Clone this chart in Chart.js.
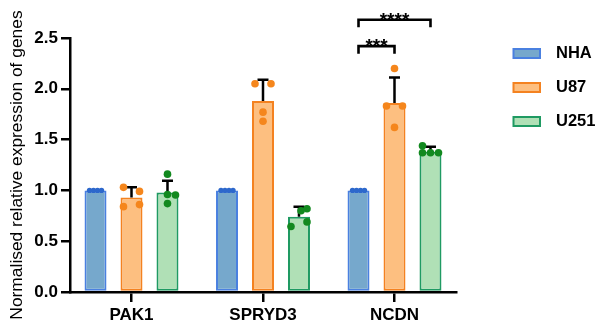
<!DOCTYPE html>
<html><head><meta charset="utf-8">
<script src="https://cdn.jsdelivr.net/npm/chart.js@4.4.0/dist/chart.umd.min.js"></script>
<style>html,body{margin:0;padding:0;background:#fff;} canvas{display:block;}</style>
</head><body>
<canvas id="c" width="600" height="332"></canvas>
<script>
// ---- data ----
const categories = ['PAK1', 'SPRYD3', 'NCDN'];
const groups = ['NHA', 'U87', 'U251'];
const meanNHA = [1.00, 1.00, 1.00];
const meanU87 = [0.93, 1.88, 1.86];
const meanU251 = [0.98, 0.74, 1.38];
const sdNHA = [0, 0, 0];
const sdU87 = [0.10, 0.21, 0.25];
const sdU251 = [0.115, 0.10, 0.05];
const repNHA = [[1, 1, 1, 1], [1, 1, 1, 1], [1, 1, 1, 1]];
const repU87 = [[1.03, 0.99, 0.84, 0.86], [2.05, 2.05, 1.77, 1.68], [2.20, 1.83, 1.83, 1.62]];
const repU251 = [[1.16, 0.96, 0.955, 0.87], [0.80, 0.82, 0.645, 0.69], [1.44, 1.37, 1.37, 1.37]];
const yTicks = [0, 0.5, 1.0, 1.5, 2.0, 2.5];
const yTitle = 'Normalised relative expression of genes';
// significance comparisons (category index, group indices, bracket height in data units)
const sigCategory = [2, 2];
const sigFrom = [0, 0];
const sigTo = [1, 2];
const sigHeight = [2.42, 2.68];
const sigLabel = ['***', '****'];

// ---- styles ----
const FONT = '"Liberation Sans", Arial, Helvetica, sans-serif';
const means = [meanNHA, meanU87, meanU251];
const sds = [sdNHA, sdU87, sdU251];
const reps = [repNHA, repU87, repU251];
const fills = ['#76a8cc', '#fdbf80', '#b0e0b6'];
const borders = ['#4a80e0', '#f48220', '#1f9a62'];
const dotColors = ['#2d68cc', '#f5861c', '#12891f'];
const dotRadius = [2.7, 3.8, 3.8];
const jitter = [
  [[-6, -2, 2, 6], [-6, -2, 2, 6], [-6, -2, 2, 6]],
  [[-8, 8, -8, 8], [-8, 8, 0, 0], [0, -8, 8, 0]],
  [[0, 0, 8, 0], [2, 8, -8, 8], [-8, -8, 0, 8]]
];

const datasets = groups.map((g, d) => ({
  label: g,
  data: categories.map((c, i) => ({x: i, y: means[d][i]})),
  backgroundColor: fills[d],
  borderColor: borders[d],
  borderWidth: 2,
  borderSkipped: false,
  categoryPercentage: 0.821,
  barPercentage: 0.611
}));

const extrasPlugin = {
  id: 'extras',
  afterDatasetsDraw(chart) {
    const ctx = chart.ctx;
    const y = chart.scales.y;
    ctx.save();
    // error bars (SD, upward)
    groups.forEach((g, d) => {
      const meta = chart.getDatasetMeta(d);
      meta.data.forEach((bar, i) => {
        if (!sds[d][i]) return;
        const y0 = y.getPixelForValue(means[d][i]);
        const y1 = y.getPixelForValue(means[d][i] + sds[d][i]);
        ctx.strokeStyle = '#000';
        ctx.lineWidth = 2.5;
        ctx.lineCap = 'butt';
        ctx.beginPath();
        ctx.moveTo(bar.x, y0); ctx.lineTo(bar.x, y1);
        ctx.moveTo(bar.x - 5.5, y1); ctx.lineTo(bar.x + 5.5, y1);
        ctx.stroke();
      });
    });
    // replicate dots
    groups.forEach((g, d) => {
      const meta = chart.getDatasetMeta(d);
      meta.data.forEach((bar, i) => {
        reps[d][i].forEach((v, k) => {
          ctx.fillStyle = dotColors[d];
          ctx.beginPath();
          ctx.arc(bar.x + jitter[d][i][k], y.getPixelForValue(v), dotRadius[d], 0, Math.PI * 2);
          ctx.fill();
        });
      });
    });
    // significance brackets
    sigCategory.forEach((c, s) => {
      const xa = chart.getDatasetMeta(sigFrom[s]).data[c].x;
      const xb = chart.getDatasetMeta(sigTo[s]).data[c].x;
      const yt = y.getPixelForValue(sigHeight[s]);
      const leg = 7.5;
      ctx.strokeStyle = '#000';
      ctx.lineWidth = 2.6;
      ctx.lineJoin = 'miter';
      ctx.beginPath();
      ctx.moveTo(xa, yt + leg); ctx.lineTo(xa, yt); ctx.lineTo(xb, yt); ctx.lineTo(xb, yt + leg);
      ctx.stroke();
      ctx.fillStyle = '#000';
      ctx.font = 'bold 19px ' + FONT;
      ctx.textAlign = 'center';
      ctx.textBaseline = 'alphabetic';
      ctx.fillText(sigLabel[s], (xa + xb) / 2, yt + 6);
    });
    ctx.restore();
  },
  afterDraw(chart) {
    // legend
    const ctx = chart.ctx;
    const a = chart.chartArea;
    ctx.save();
    groups.forEach((g, d) => {
      const bx = a.right + 57.5, cy = 53.5 + d * 34;
      ctx.fillStyle = fills[d];
      ctx.fillRect(bx, cy - 4.5, 26.5, 9);
      ctx.strokeStyle = borders[d];
      ctx.lineWidth = 2;
      ctx.strokeRect(bx, cy - 4.5, 26.5, 9);
      ctx.fillStyle = '#000';
      ctx.font = 'bold 16.5px ' + FONT;
      ctx.textAlign = 'left';
      ctx.textBaseline = 'middle';
      ctx.fillText(g, bx + 42.5, cy);
    });
    ctx.restore();
  }
};

new Chart(document.getElementById('c'), {
  type: 'bar',
  data: {datasets},
  options: {
    responsive: false,
    animation: false,
    layout: {padding: {top: 38, right: 144, bottom: 0, left: 0}},
    plugins: {legend: {display: false}, tooltip: {enabled: false}},
    scales: {
      x: {
        type: 'linear',
        offset: false,
        min: -0.4677,
        max: categories.length - 1 + 0.4677,
        afterBuildTicks: (s) => { s.ticks = categories.map((c, i) => ({value: i})); },
        afterFit: (s) => { s.height = 40; },
        ticks: {
          autoSkip: false, maxRotation: 0, padding: 3,
          color: '#000',
          font: {family: FONT, size: 17, weight: 'bold'},
          callback: (v) => categories[v]
        },
        grid: {display: true, offset: false, drawOnChartArea: false, drawTicks: true, tickLength: 10, color: '#000', lineWidth: 2.5},
        border: {display: true, color: '#000', width: 2.5}
      },
      y: {
        min: 0, max: 2.5,
        afterBuildTicks: (s) => { s.ticks = yTicks.map(v => ({value: v})); },
        afterFit: (s) => { s.width = 70; },
        ticks: {
          padding: 3, color: '#000',
          font: {family: FONT, size: 17, weight: 'bold'},
          callback: (v) => Number(v).toFixed(1)
        },
        grid: {display: true, drawOnChartArea: false, drawTicks: true, tickLength: 9, color: '#000', lineWidth: 2.5},
        border: {display: true, color: '#000', width: 2.5},
        title: {
          display: true, text: yTitle, color: '#000',
          font: {family: FONT, size: 17.4, weight: 'normal'},
          padding: {top: 6.5, bottom: 0}
        }
      }
    }
  },
  plugins: [extrasPlugin]
});
</script>
</body></html>
